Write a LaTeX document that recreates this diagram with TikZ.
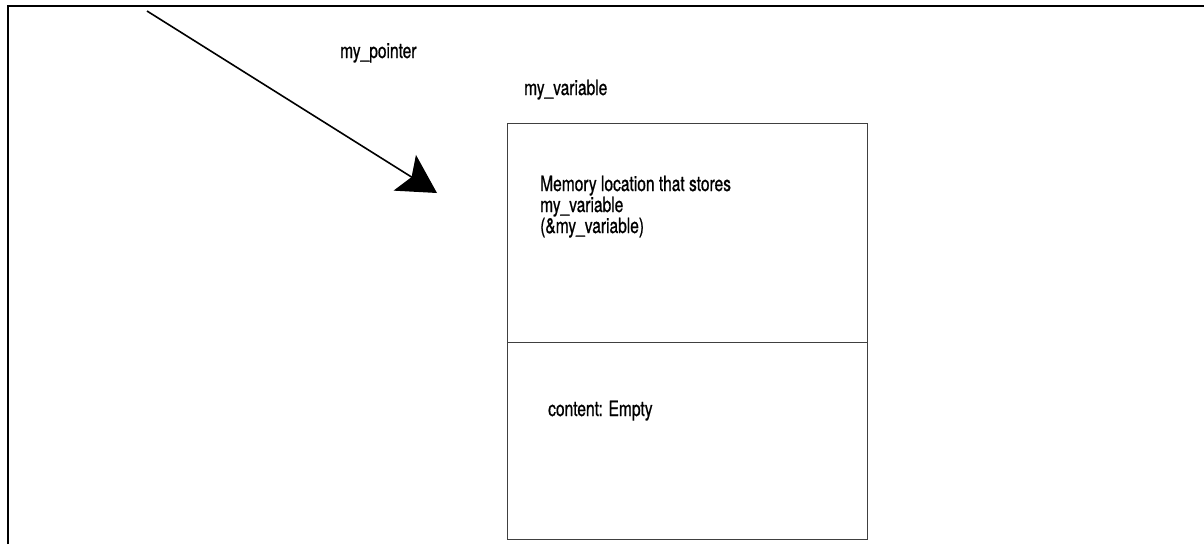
\documentclass[tikz,border=0pt]{standalone}
\usepackage{fontspec}
\setmainfont{TeX Gyre Heros}[FakeStretch=0.74,FakeBold=0.8]
\usetikzlibrary{arrows.meta}
\begin{document}
\begin{tikzpicture}[x=1pt,y=-1pt,
  frame/.style={line width=2.5pt,black},
  cell/.style={draw=black!75,line width=1.2pt,minimum width=360pt,inner sep=0pt,anchor=north west},
  lbl/.style={inner sep=0pt,anchor=base west,font=\fontsize{21}{21}\selectfont},
  ptr/.style={line width=1.6pt,-{Stealth[length=38pt,width=42pt,inset=8pt]}}]
\useasboundingbox (0,0) rectangle (1204,544);
\coordinate (fb) at (8,544);
\coordinate (fc) at (8,6);
\coordinate (fr) at (1204,6);
\draw[frame] (fb) -- (fc) -- (fr);
\node[cell,minimum height=219pt] (upper) at (507,123) {};
\node[cell,minimum height=197pt] (lower) at (507,342) {};
\node[lbl] (ptrlabel) at (340,58) {my\_pointer};
\node[lbl] (varlabel) at (524,95) {my\_variable};
\node[lbl] (memline1) at (540,191) {Memory location that stores};
\node[lbl] (memline2) at (540,212) {my\_variable};
\node[lbl] (memline3) at (540,233) {(\&my\_variable)};
\node[lbl] (content) at (548,416) {content: Empty};
\coordinate (ps) at (147,11);
\coordinate (pt) at (437,193);
\draw[ptr] (ps) -- (pt);
\end{tikzpicture}
\end{document}
